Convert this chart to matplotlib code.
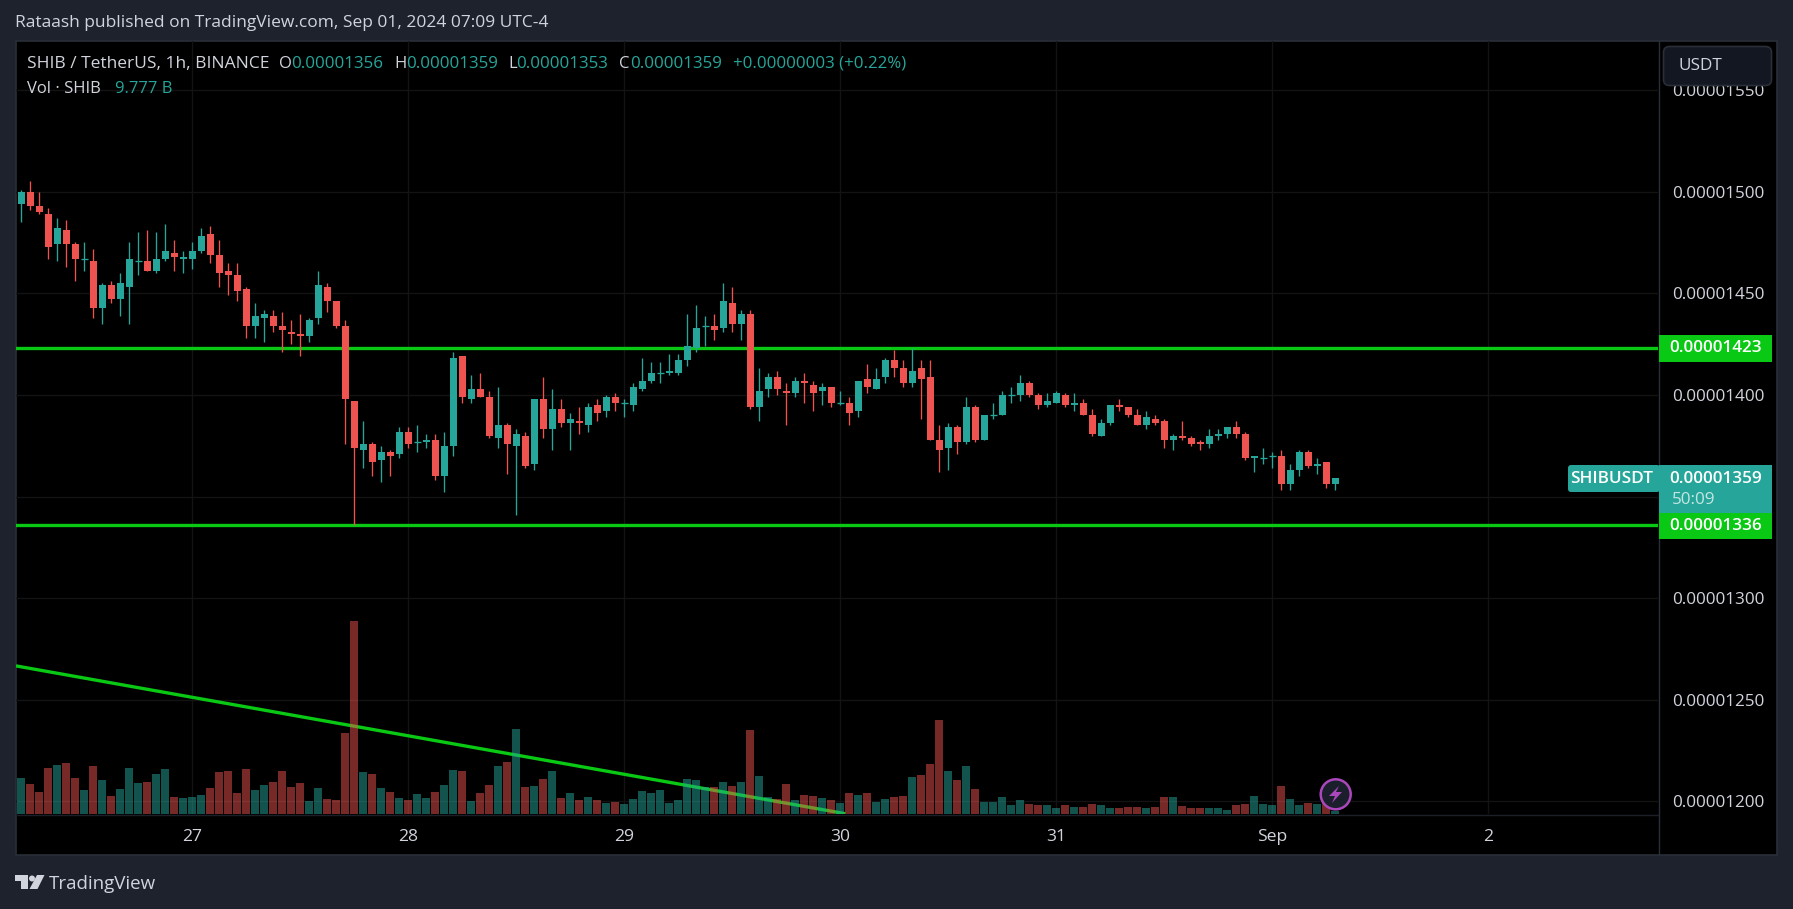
import matplotlib
matplotlib.use('Agg')
from matplotlib import pyplot as plt
from matplotlib.patches import Rectangle, FancyBboxPatch, Circle, Polygon

# hourly candles, price in units of 0.00000001
opens = [1494,1500,1493,1489,1474,1481,1474,1467,1466,1443,
         1454,1447,1453,1466,1466,1461,1467,1470,1467,1467,
         1471,1479,1469,1461,1459,1452,1434,1438,1439,1434,
         1431,1430,1429,1438,1453,1446,1434,1397,1373,1376,
         1368,1372,1371,1382,1377,1377,1378,1360,1375,1419,
         1398,1403,1399,1379,1385,1375,1380,1366,1398,1383,
         1393,1386,1387,1385,1395,1392,1399,1396,1395,1403,
         1407,1411,1411,1411,1417,1423,1434,1434,1433,1445,
         1435,1440,1394,1403,1409,1402,1401,1407,1405,1402,
         1404,1396,1396,1392,1408,1403,1409,1417,1413,1406,
         1413,1409,1378,1374,1384,1377,1394,1378,1390,1390,
         1400,1400,1406,1400,1395,1396,1400,1395,1396,1390,
         1380,1386,1395,1394,1390,1385,1388,1387,1378,1380,
         1379,1377,1376,1380,1381,1384,1381,1369,1369,1370,
         1370,1356,1363,1372,1365,1367,1356]
highs = [1501,1505,1500,1492,1487,1486,1475,1475,1472,1455,
         1456,1460,1475,1480,1481,1480,1484,1476,1471,1475,
         1482,1483,1476,1465,1465,1453,1445,1442,1442,1441,
         1437,1440,1438,1461,1455,1446,1437,1397,1387,1377,
         1375,1373,1384,1384,1385,1381,1381,1382,1421,1419,
         1410,1411,1402,1404,1386,1383,1382,1398,1409,1403,
         1398,1391,1394,1396,1398,1400,1401,1398,1406,1418,
         1416,1416,1420,1420,1440,1444,1439,1440,1455,1453,
         1442,1442,1413,1411,1412,1406,1409,1411,1407,1406,
         1404,1402,1399,1407,1415,1413,1418,1422,1417,1423,
         1417,1417,1385,1386,1385,1399,1395,1390,1396,1402,
         1404,1410,1407,1401,1401,1402,1401,1401,1398,1393,
         1388,1395,1398,1394,1393,1392,1390,1388,1381,1387,
         1380,1378,1383,1383,1384,1387,1382,1370,1374,1372,
         1373,1366,1373,1373,1369,1367,1359]
lows = [1485,1491,1489,1467,1466,1463,1456,1461,1438,1435,
        1445,1439,1435,1459,1461,1460,1466,1461,1460,1462,
        1470,1465,1453,1449,1446,1428,1428,1426,1431,1421,
        1425,1419,1426,1435,1441,1433,1376,1336,1364,1360,
        1357,1360,1369,1374,1372,1374,1358,1352,1370,1396,
        1396,1399,1379,1374,1361,1341,1364,1363,1379,1373,
        1384,1373,1381,1382,1387,1389,1392,1389,1392,1402,
        1406,1406,1410,1410,1414,1421,1424,1427,1431,1431,
        1427,1393,1387,1399,1400,1385,1399,1396,1392,1395,
        1394,1395,1385,1389,1401,1403,1406,1409,1404,1404,
        1388,1378,1362,1363,1371,1376,1377,1378,1388,1390,
        1396,1397,1399,1393,1394,1396,1394,1392,1390,1380,
        1380,1385,1392,1389,1385,1383,1385,1374,1373,1378,
        1375,1373,1374,1378,1379,1379,1368,1362,1366,1364,
        1353,1353,1360,1364,1361,1354,1353]
closes = [1500,1493,1490,1473,1482,1474,1467,1467,1443,1454,
          1447,1455,1467,1466,1461,1467,1471,1468,1468,1471,
          1478,1469,1460,1459,1451,1434,1439,1440,1434,1432,
          1430,1429,1437,1454,1446,1434,1398,1374,1376,1367,
          1372,1370,1382,1376,1377,1378,1360,1375,1418,1399,
          1403,1399,1380,1385,1376,1381,1365,1398,1383,1393,
          1386,1388,1386,1394,1391,1399,1396,1396,1404,1407,
          1411,1411,1412,1417,1424,1433,1434,1432,1446,1435,
          1440,1394,1402,1409,1403,1401,1407,1406,1401,1404,
          1396,1396,1391,1407,1404,1408,1417,1413,1406,1412,
          1408,1378,1373,1384,1377,1394,1378,1390,1390,1400,
          1400,1406,1400,1395,1397,1401,1395,1396,1390,1381,
          1386,1395,1394,1390,1385,1389,1386,1378,1380,1379,
          1376,1376,1380,1381,1384,1381,1369,1370,1369,1370,
          1356,1363,1372,1365,1366,1356,1359]
# volume in billions of SHIB
volumes = [119,99,73,152,161,168,119,80,158,112,
           60,83,152,102,106,132,148,57,53,57,
           63,86,138,142,70,148,80,96,106,142,
           89,102,44,86,50,47,266,632,138,132,
           86,73,53,47,66,53,73,96,145,142,
           44,70,96,158,171,279,89,93,116,142,
           53,70,47,57,47,37,40,34,50,76,
           70,80,37,47,116,112,89,89,106,93,
           106,276,125,57,50,99,47,63,60,53,
           47,37,70,63,70,40,50,58,61,123,
           130,166,310,143,113,159,84,41,41,55,
           32,48,35,32,32,22,32,25,25,35,
           32,22,22,25,25,22,25,55,55,28,
           22,22,22,22,15,32,35,61,35,32,
           94,51,32,38,35,37,9.777]

price_ticks = [1200,1250,1300,1350,1400,1450,1500,1550]
price_labels = ['0.00001200','0.00001250','0.00001300','0.00001350',
                '0.00001400','0.00001450','0.00001500','0.00001550']
day_ticks = [19,43,67,91,115,139,163]
day_labels = ['27','28','29','30','31','Sep','2']
level_lines = [1423,1336]
trend_x = [-0.59,91.56]
trend_y = [1266.7,1194]

UP = '#26a69a'
DOWN = '#ef5350'
GREEN = '#0ac914'
BG = '#1e222d'
BORDER = '#2a2e39'
TXT = '#d1d4dc'
plt.rcParams['font.family'] = ['Open Sans', 'DejaVu Sans']
W, H = 1793, 909


def box(x0, y0, x1, y1):
    # figure fraction rect from pixel coords
    return [x0/W, 1-y1/H, (x1-x0)/W, (y1-y0)/H]


fig = plt.figure(figsize=(W/100, H/100), dpi=100, facecolor=BG)

# black panel behind everything
bg = fig.add_axes([0, 0, 1, 1], zorder=0)
bg.set_xlim(0, W)
bg.set_ylim(H, 0)
bg.axis('off')
bg.add_patch(Rectangle((15.5, 40.5), 1761.5, 814.5, fc='black', ec=BORDER, lw=1.2))
bg.plot([1658.5, 1658.5], [41, 855], color=BORDER, lw=1)
bg.plot([16, 1658], [814.5, 814.5], color='#1c1f28', lw=1)

# price pane
ax = fig.add_axes(box(16, 41, 1658, 814.3), zorder=1)
ax.set_facecolor('none')
ax.set_xlim(-0.59, 181.85)
ax.set_ylim(1193.7, 1574.1)
for s in ax.spines.values():
    s.set_visible(False)
ax.grid(True, color='#131313', lw=1)
ax.set_axisbelow(True)

for lv in level_lines:
    ax.axhline(lv, color=GREEN, lw=2.4, zorder=2)
ax.plot(trend_x, trend_y, color=GREEN, lw=2.4, zorder=2, solid_capstyle='butt')

xs = list(range(len(opens)))
for i in xs:
    col = UP if closes[i] >= opens[i] else DOWN
    ax.vlines(i, lows[i], highs[i], color=col, lw=0.95, zorder=3)
    if opens[i] == closes[i]:
        ax.hlines(opens[i], i-0.39, i+0.39, color=col, lw=0.95, zorder=3)
    else:
        ax.bar(i, abs(closes[i]-opens[i]), bottom=min(opens[i], closes[i]),
               width=0.78, color=col, lw=0, zorder=4)

# volume in its own scale, see-through so the trend line shows in it
vax = ax.twinx()
vax.set_zorder(2)
vax.set_facecolor('none')
vax.set_ylim(0, 2529)
vax.axis('off')
vcols = [UP if closes[i] >= opens[i] else DOWN for i in xs]
vax.bar(xs, volumes, width=0.89, color=vcols, alpha=0.5, lw=0)

# twinx puts the ticks on the left, so set them up here
ax.yaxis.tick_right()
ax.set_yticks(price_ticks)
ax.set_yticklabels(price_labels, fontsize=12.3, color=TXT)
ax.set_xticks(day_ticks)
ax.set_xticklabels(day_labels, fontsize=12.6, color=TXT)
ax.tick_params(axis='y', length=0, pad=10.5)
ax.tick_params(axis='x', length=0, pad=10.5)

# everything around the chart
top = fig.add_axes([0, 0, 1, 1], zorder=5)
top.set_xlim(0, W)
top.set_ylim(H, 0)
top.axis('off')
top.patch.set_alpha(0)


def label(x, y, s, color=TXT, size=12.3, ha='left', **kw):
    top.text(x, y, s, color=color, fontsize=size, ha=ha, va='center', **kw)


label(15, 23, 'Rataash published on TradingView.com, Sep 01, 2024 07:09 UTC-4', size=12.5)
label(27, 64, 'SHIB / TetherUS, 1h, BINANCE', size=12.5)
for x, s in [(279, 'O'), (394, 'H'), (508, 'L'), (619, 'C')]:
    label(x, 64, s, size=12)
for x, s in [(291, '0.00001356'), (406, '0.00001359'), (516, '0.00001353'),
             (630, '0.00001359'), (733, '+0.00000003 (+0.22%)')]:
    label(x, 64, s, color=UP, size=12.2)
label(27, 89, 'Vol · SHIB', size=12)
label(115, 89, '9.777 B', color=UP, size=12)

# USDT button
top.add_patch(FancyBboxPatch((1667, 50), 101, 32, boxstyle='round,pad=3.5,rounding_size=6',
                             fc='#131722', ec=BORDER, lw=1.2))
label(1678, 66, 'USDT', size=12.3)

# price scale tags
top.add_patch(Rectangle((1659, 335), 113, 27, fc=GREEN, lw=0))
label(1716, 348.5, '0.00001423', color='white', ha='center', fontweight='semibold')
top.add_patch(FancyBboxPatch((1570, 467), 88, 23, boxstyle='round,pad=2,rounding_size=3', fc=UP, lw=0))
label(1612, 479, 'SHIBUSDT', color='white', ha='center', fontweight='semibold')
top.add_patch(Rectangle((1659, 465), 113, 48, fc=UP, lw=0))
label(1716, 479, '0.00001359', color='white', ha='center', fontweight='semibold')
label(1672, 500, '50:09', color='#c4e6e2')
top.add_patch(Rectangle((1659, 513), 113, 26, fc=GREEN, lw=0))
label(1716, 525.5, '0.00001336', color='white', ha='center', fontweight='semibold')

# lightning badge
top.add_patch(Circle((1335.7, 794.3), 15, fc='#1b1e2b', ec='#ab47bc', lw=1.8))
top.add_patch(Polygon([(1339, 786), (1329, 796), (1335, 796), (1332, 803), (1342, 792), (1336, 792)],
                      fc='#ab47bc', lw=0))

# TradingView logo
top.add_patch(Polygon([(15, 875), (28, 875), (28, 889), (21, 889), (21, 881), (15, 881)], fc=TXT, lw=0))
top.add_patch(Circle((32, 878.5), 3, fc=TXT, lw=0))
top.add_patch(Polygon([(37, 875), (44.5, 875), (37.5, 889), (29.5, 889)], fc=TXT, lw=0))
label(49, 884, 'TradingView', size=13.5)

fig.savefig('out.png', dpi=100, facecolor=BG)
